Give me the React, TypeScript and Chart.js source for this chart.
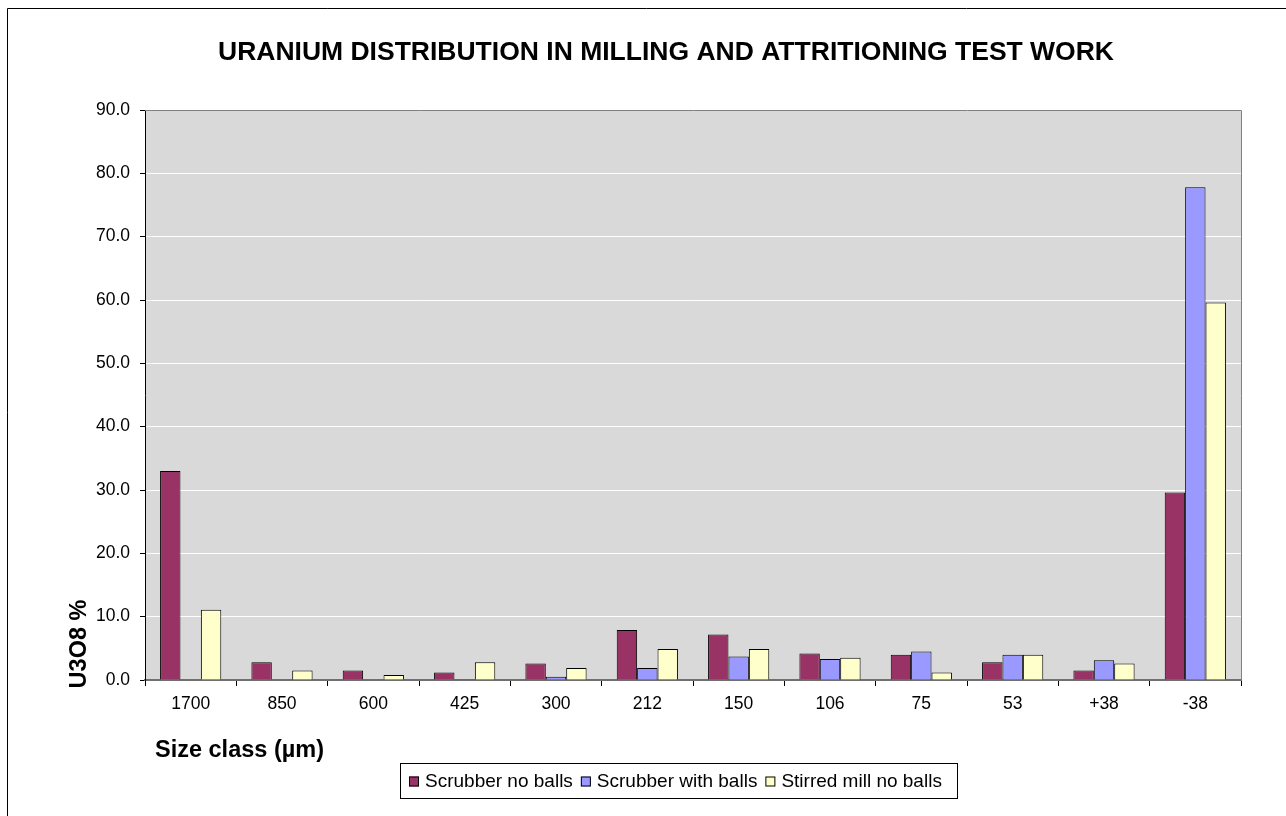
import React, { useEffect, useRef } from "react";
import { Chart, registerables } from "chart.js";

Chart.register(...registerables);

const chartTitle = "URANIUM DISTRIBUTION IN MILLING AND ATTRITIONING TEST WORK";
const xAxisTitle = "Size class (µm)";
const yAxisTitle = "U3O8 %";

const categories = ["1700", "850", "600", "425", "300", "212", "150", "106", "75", "53", "+38", "-38"];

const scrubberNoBalls = [33.0, 2.8, 1.5, 1.2, 2.6, 7.9, 7.2, 4.2, 4.0, 2.8, 1.5, 29.6];
const scrubberWithBalls = [0.0, 0.0, 0.0, 0.1, 0.5, 1.9, 3.7, 3.3, 4.5, 4.0, 3.1, 77.8];
const stirredMillNoBalls = [11.1, 1.5, 0.8, 2.8, 1.9, 4.9, 4.9, 3.5, 1.2, 4.0, 2.6, 59.6];

const seriesNames = ["Scrubber no balls", "Scrubber with balls", "Stirred mill no balls"];
const seriesColors = ["#993366", "#9999FF", "#FFFFCC"];

const yMin = 0;
const yMax = 90;
const yStep = 10;

const FONT = "'Liberation Sans', Arial, sans-serif";

const decorPlugin = {
  id: "decor",
  beforeDraw(chart: any) {
    const { ctx, chartArea } = chart;
    ctx.save();
    ctx.fillStyle = "#D9D9D9";
    ctx.fillRect(chartArea.left, chartArea.top, chartArea.right - chartArea.left, chartArea.bottom - chartArea.top);
    ctx.restore();
  },
  afterDraw(chart: any) {
    const { ctx, chartArea } = chart;
    ctx.save();
    // plot border top & right
    ctx.strokeStyle = "#808080";
    ctx.lineWidth = 1;
    ctx.beginPath();
    ctx.moveTo(chartArea.left, chartArea.top + 0.5);
    ctx.lineTo(chartArea.right + 0.5, chartArea.top + 0.5);
    ctx.lineTo(chartArea.right + 0.5, chartArea.bottom);
    ctx.stroke();

    // outer frame (top & left)
    ctx.strokeStyle = "#000000";
    ctx.beginPath();
    ctx.moveTo(7.5, 816);
    ctx.lineTo(7.5, 8.5);
    ctx.lineTo(1286, 8.5);
    ctx.stroke();

    // title
    ctx.fillStyle = "#000000";
    ctx.textBaseline = "middle";
    ctx.textAlign = "center";
    ctx.font = `bold 26.5px ${FONT}`;
    ctx.fillText(chartTitle, 666, 53);

    // x axis title
    ctx.textAlign = "left";
    ctx.font = `bold 23.5px ${FONT}`;
    ctx.fillText(xAxisTitle, 155, 751);

    // y axis title
    ctx.save();
    ctx.translate(80, 644);
    ctx.rotate(-Math.PI / 2);
    ctx.textAlign = "center";
    ctx.font = `bold 23.5px ${FONT}`;
    ctx.fillText(yAxisTitle, 0, 0);
    ctx.restore();

    // legend
    const lx = 400, ly = 763, lw = 557, lh = 35;
    ctx.fillStyle = "#FFFFFF";
    ctx.fillRect(lx, ly, lw, lh);
    ctx.strokeStyle = "#000000";
    ctx.strokeRect(lx + 0.5, ly + 0.5, lw, lh);
    ctx.font = `19px ${FONT}`;
    let x = lx + 9;
    const cy = ly + lh / 2 + 1;
    seriesNames.forEach((name, i) => {
      ctx.fillStyle = seriesColors[i];
      ctx.fillRect(x, cy - 5, 10, 10);
      ctx.strokeStyle = "#000000";
      ctx.strokeRect(x + 0.5, cy - 4.5, 9, 9);
      ctx.fillStyle = "#000000";
      ctx.textAlign = "left";
      ctx.fillText(name, x + 16, cy);
      x += 16 + ctx.measureText(name).width + 8;
    });
    ctx.restore();
  },
};

export default function App() {
  const canvasRef = useRef<HTMLCanvasElement | null>(null);

  useEffect(() => {
    const canvas = canvasRef.current;
    if (!canvas) return;
    const chart = new Chart(canvas, {
      type: "bar",
      data: {
        labels: categories,
        datasets: [
          { label: seriesNames[0], data: scrubberNoBalls, backgroundColor: seriesColors[0], borderColor: "#000000", borderWidth: 1 },
          { label: seriesNames[1], data: scrubberWithBalls, backgroundColor: seriesColors[1], borderColor: "#000000", borderWidth: 1 },
          { label: seriesNames[2], data: stirredMillNoBalls, backgroundColor: seriesColors[2], borderColor: "#000000", borderWidth: 1 },
        ],
      },
      options: {
        animation: false,
        responsive: false,
        devicePixelRatio: 1,
        layout: { padding: { top: 110, right: 45, bottom: 96, left: 0 } },
        datasets: { bar: { categoryPercentage: 0.67, barPercentage: 1.0 } },
        plugins: {
          legend: { display: false },
          title: { display: false },
          tooltip: { enabled: false },
        },
        scales: {
          x: {
            afterFit: (s: any) => { s.height = 40; },
            grid: { offset: true, drawOnChartArea: false, tickColor: "#000000", tickLength: 6, lineWidth: 1 },
            border: { color: "#707070", width: 2 },
            ticks: { color: "#000000", font: { family: FONT, size: 17.5 }, padding: 8 },
          },
          y: {
            min: yMin,
            max: yMax,
            afterFit: (s: any) => { s.width = 145; },
            ticks: {
              stepSize: yStep,
              color: "#000000",
              font: { family: FONT, size: 17.5 },
              padding: 10,
              callback: (v: any) => Number(v).toFixed(1),
            },
            grid: { color: "#FFFFFF", tickColor: "#000000", tickLength: 5, lineWidth: 1 },
            border: { color: "#000000", width: 1 },
          },
        },
      },
      plugins: [decorPlugin],
    });
    return () => chart.destroy();
  }, []);

  return (
    <div style={{ position: "fixed", left: 0, top: 0, width: 1286, height: 816, background: "#FFFFFF" }}>
      <canvas ref={canvasRef} width={1286} height={816} style={{ width: 1286, height: 816, display: "block" }} />
    </div>
  );
}
